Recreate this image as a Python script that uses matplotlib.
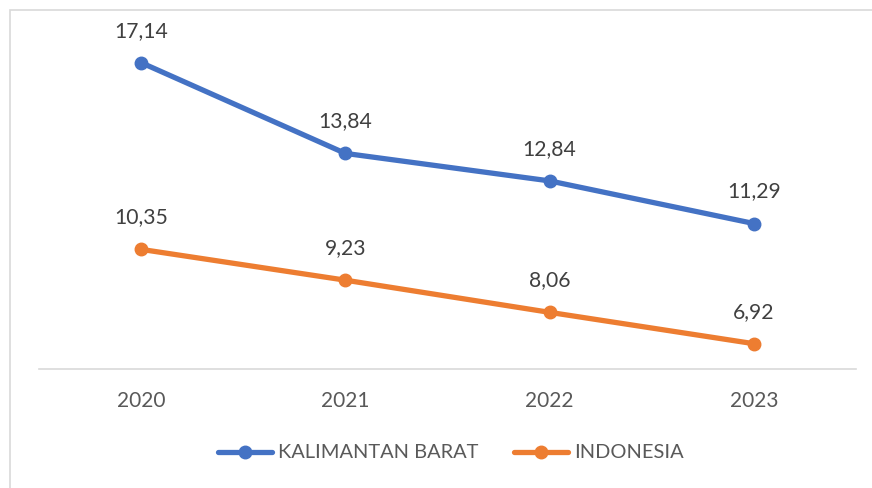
import matplotlib
matplotlib.use("Agg")
from matplotlib import pyplot as plt
from matplotlib.patches import Rectangle

years = ["2020", "2021", "2022", "2023"]
kalbar = [17.14, 13.84, 12.84, 11.29]
indonesia = [10.35, 9.23, 8.06, 6.92]
series_names = ["KALIMANTAN BARAT", "INDONESIA"]
colors = ["#4472C4", "#ED7D31"]

plt.rcParams['font.family'] = ['Lato', 'DejaVu Sans']

fig = plt.figure(figsize=(8.72, 4.88), dpi=100)
ax = fig.add_axes([39 / 872, 1 - 369 / 488, (856 - 39) / 872, (369 - 39) / 488])

x = list(range(len(years)))
for vals, name, c in zip([kalbar, indonesia], series_names, colors):
    ax.plot(x, vals, color=c, lw=3.8, marker='o', ms=9, label=name,
            solid_capstyle='round')
    for xi, v in zip(x, vals):
        ax.annotate(f"{v:.2f}".replace(".", ","), (xi, v), xytext=(0, 23),
                    textcoords='offset points', ha='center', va='center',
                    fontsize=15.2, color='#404040')

ax.set_xlim(-0.5, 3.5)
ax.set_ylim(6, 18)
ax.set_xticks(x)
ax.set_xticklabels(years)
ax.set_yticks([])
ax.tick_params(axis='x', length=0, pad=16, labelsize=15, labelcolor='#595959')
for s in ['top', 'left', 'right']:
    ax.spines[s].set_visible(False)
ax.spines['bottom'].set_color('#D9D9D9')
ax.spines['bottom'].set_linewidth(1.2)

fig.legend(loc='center', bbox_to_anchor=(451 / 872, 1 - 453 / 488), ncol=2,
           frameon=False, fontsize=14.4, labelcolor='#595959',
           handlelength=2.7, handletextpad=0.3, columnspacing=1.8)

fig.patches.append(Rectangle((9.5 / 872, -0.1), 1.0, 1 - 10 / 488 + 0.1,
                             transform=fig.transFigure, fill=False,
                             ec='#D9D9D9', lw=1.2))

fig.savefig("out.png", dpi=100)
